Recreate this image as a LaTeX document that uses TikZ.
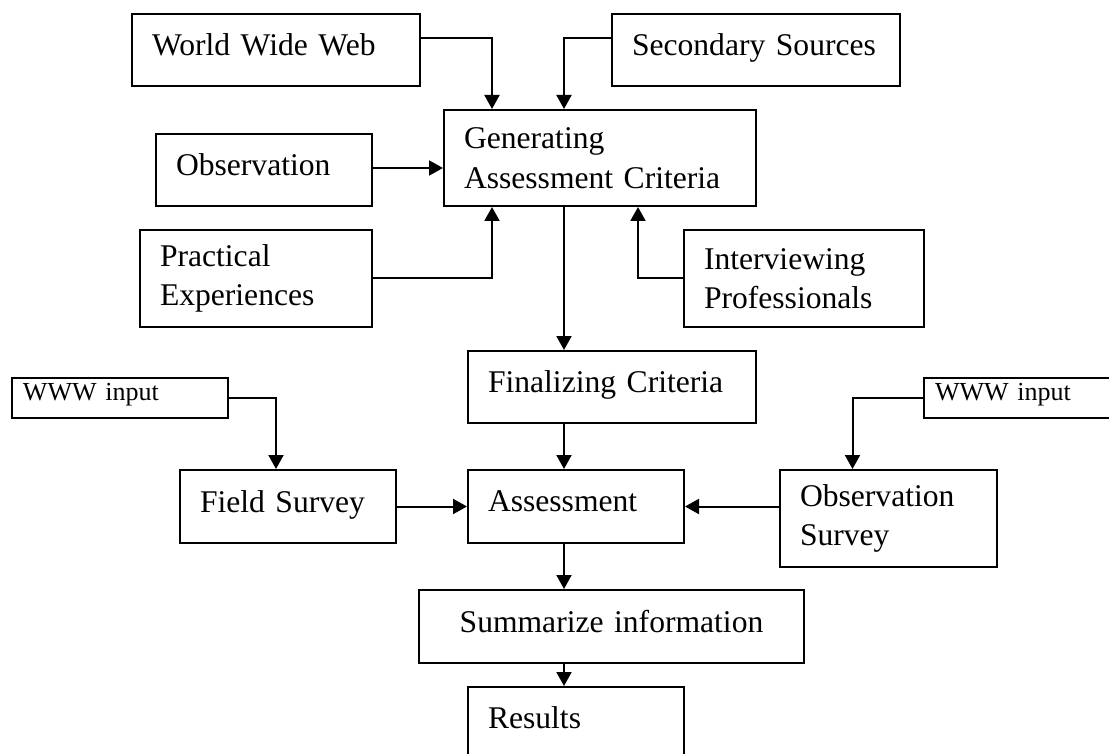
\documentclass[tikz,border=0pt]{standalone}
\usepackage{fontspec}
\setmainfont{Liberation Serif}
\usetikzlibrary{positioning}
\usetikzlibrary{calc}
\usetikzlibrary{arrows.meta}

\begin{document}
\begin{tikzpicture}[
        x=1pt, y=-1pt,
        box/.style={draw, line width=2pt, rectangle, anchor=north west, align=left, inner xsep=20pt, inner ysep=0pt, font=\fontsize{31.6}{39.5}\selectfont},
        single/.style={box, text depth=10pt},
        smallbox/.style={box, inner xsep=11pt, text depth=13pt, font=\fontsize{26}{32}\selectfont},
        arrow/.style={line width=2pt, -{Triangle[length=14pt, width=15pt]}},
    ]
        \clip (0,0) rectangle (1109,754);

        \node[single, text width=248pt, minimum height=72pt] (www) at (131,13) {World Wide Web};
        \node[single, text width=248pt, minimum height=72pt] (secondary) at (611,13) {Secondary Sources};
        \node[box, text width=272pt, minimum height=96pt] (generating) at (443,109) {Generating\\Assessment Criteria};
        \node[single, text width=176pt, minimum height=72pt] (observation) at (155,133) {Observation};
        \node[box, text width=192pt, minimum height=97pt] (practical) at (139,229) {Practical\\Experiences};
        \node[box, text width=200pt, minimum height=97pt] (interview) at (683,229) {Interviewing\\Professionals};
        \node[single, text width=248pt, minimum height=72pt] (finalizing) at (467,350) {Finalizing Criteria};
        \node[smallbox, text width=194pt, minimum height=40pt] (wwwleft) at (11,377) {WWW input};
        \node[smallbox, text width=178pt, minimum height=40pt] (wwwright) at (923,377) {WWW input};
        \node[single, text width=176pt, minimum height=73pt] (field) at (179,469) {Field Survey};
        \node[single, text width=176pt, minimum height=73pt] (assessment) at (467,469) {Assessment};
        \node[box, text width=177pt, minimum height=97pt] (obssurvey) at (779,469) {Observation\\Survey};
        \node[single, text width=345pt, minimum height=73pt, align=center] (summarize) at (418,589) {Summarize information};
        \node[single, text width=176pt, minimum height=72pt] (results) at (467,686) {Results};

        \coordinate (genin1) at ([xshift=-108pt]generating.north);
        \coordinate (genin2) at ([xshift=-36pt]generating.north);
        \coordinate (genout) at ([xshift=-36pt]generating.south);
        \coordinate (genup1) at ([xshift=-108pt]generating.south);
        \coordinate (genup2) at ([xshift=38pt]generating.south);

        \draw[arrow] ([yshift=12pt]www.east) -| (genin1);
        \draw[arrow] ([yshift=12pt]secondary.west) -| (genin2);
        \draw[arrow] ([yshift=2pt]observation.east) -- ([yshift=2pt]observation.east -| generating.west);
        \draw[arrow] (practical.east) -| (genup1);
        \draw[arrow] (interview.west) -| (genup2);
        \draw[arrow] (genout) -- (genout |- finalizing.north);
        \draw[arrow] ([xshift=-48pt]finalizing.south) -- ([xshift=-48pt]finalizing.south |- assessment.north);
        \draw[arrow] (wwwleft.east) -| ([xshift=-12pt]field.north);
        \draw[arrow] (wwwright.west) -| ([xshift=-36pt]obssurvey.north);
        \draw[arrow] (field.east) -- (assessment.west);
        \draw[arrow] (assessment.east -| obssurvey.west) -- (assessment.east);
        \draw[arrow] ([xshift=-12pt]assessment.south) -- ([xshift=-12pt]assessment.south |- summarize.north);
        \draw[arrow] ([xshift=-12pt]results.north |- summarize.south) -- ([xshift=-12pt]results.north);
    \end{tikzpicture}
\end{document}
